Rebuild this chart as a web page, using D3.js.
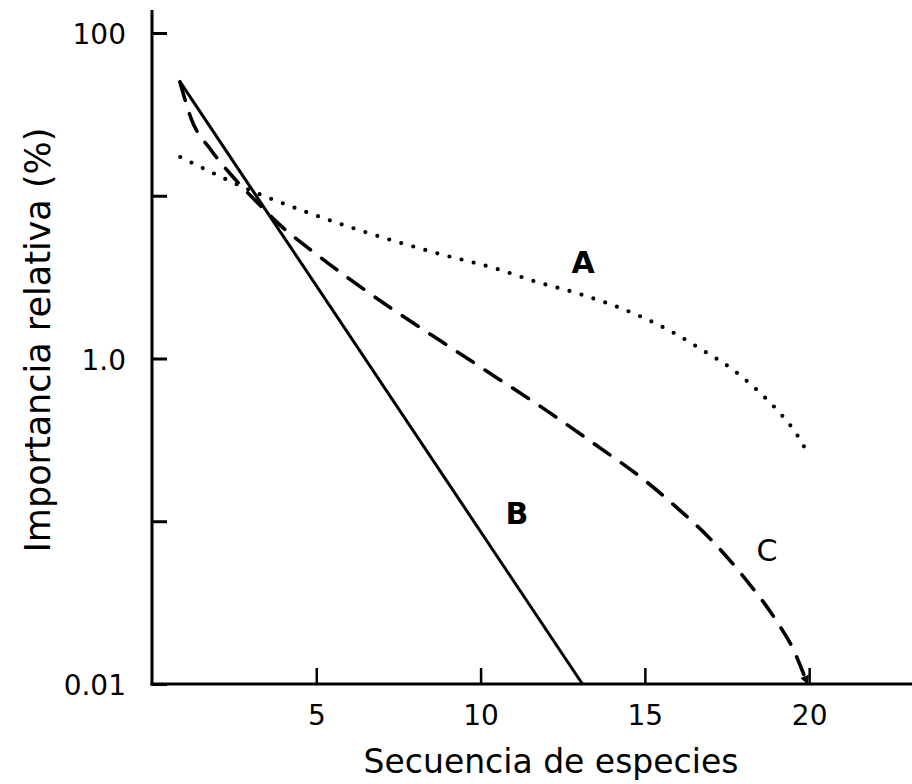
<!DOCTYPE html>
<html>
<head>
<meta charset="utf-8">
<script src="https://cdn.jsdelivr.net/npm/d3@7"></script>
<style>
  html, body { margin: 0; padding: 0; background: #fff; }
  svg { display: block; }
  text { font-family: "DejaVu Sans", sans-serif; fill: #000; }
</style>
</head>
<body>
<script>
// Rank–abundance curves: relative importance (%) of each species by rank
const xTicks = [5, 10, 15, 20];
const yTicks = [0.01, 0.1, 1, 10, 100];
const yTickLabels = ["0.01", "", "1.0", "", "100"];

// A: dotted curve
const rankA = [0.86, 3.39, 4.73, 6.25, 8.56, 10.6, 11.6, 13.13, 14.77, 15.98, 16.68, 17.69, 18.6, 19.12, 19.63, 19.94];
const valueA = [17.3, 10.0, 7.9, 6.2, 4.5, 3.5, 3.0, 2.45, 1.85, 1.4, 1.15, 0.85, 0.59, 0.46, 0.34, 0.265];

// B: straight (geometric series) line
const rankB = [0.83, 13.1];
const valueB = [51, 0.01];

// C: dashed curve
const rankC = [0.85, 1.2, 1.8, 2.4, 3.1, 3.9, 5.0, 6.0, 7.5, 9.0, 10.5, 12.0, 13.5, 15.0, 16.0, 17.0, 18.0, 19.0, 19.5, 19.95];
const valueC = [50, 29.5, 19.05, 13.5, 9.55, 6.6, 4.37, 3.09, 1.9, 1.2, 0.76, 0.48, 0.295, 0.178, 0.12, 0.0776, 0.0457, 0.0245, 0.0166, 0.01];

const xTitle = "Secuencia de especies";
const yTitle = "Importancia relativa (%)";

const W = 912, H = 784;
const svg = d3.select("body").append("svg").attr("width", W).attr("height", H);

const x = d3.scaleLinear().domain([0, 23.13]).range([152, 912]);
const y = d3.scaleLog().domain([0.01, 100]).range([684, 33]);

const zip = (xs, ys) => xs.map((v, i) => ({ x: v, y: ys[i] }));

// Axis lines
svg.append("line")
  .attr("x1", x(0)).attr("x2", x(0))
  .attr("y1", 10).attr("y2", y(0.01) + 1.5)
  .attr("stroke", "#000").attr("stroke-width", 3);
svg.append("line")
  .attr("x1", x(0) - 1.5).attr("x2", W)
  .attr("y1", y(0.01)).attr("y2", y(0.01))
  .attr("stroke", "#000").attr("stroke-width", 3);

// Y axis: ticks pointing inward, labels on the left
const yAxis = d3.axisLeft(y)
  .tickValues(yTicks)
  .tickFormat((d, i) => yTickLabels[i])
  .tickSizeInner(-15)
  .tickSizeOuter(0)
  .tickPadding(26);
const gy = svg.append("g").attr("transform", `translate(${x(0)},0)`).call(yAxis);
gy.select(".domain").remove();
gy.selectAll(".tick line").attr("stroke", "#000").attr("stroke-width", 3);
gy.selectAll(".tick text")
  .attr("font-family", "DejaVu Sans, sans-serif")
  .attr("font-size", 28)
  .attr("dy", "0.38em")
  .attr("fill", "#000");

// X axis: ticks pointing up, labels below
const xAxis = d3.axisBottom(x)
  .tickValues(xTicks)
  .tickFormat(d3.format("d"))
  .tickSizeInner(-16)
  .tickSizeOuter(0)
  .tickPadding(21);
const gx = svg.append("g").attr("transform", `translate(0,${y(0.01)})`).call(xAxis);
gx.select(".domain").remove();
gx.selectAll(".tick line").attr("stroke", "#000").attr("stroke-width", 2.5);
gx.selectAll(".tick text")
  .attr("font-family", "DejaVu Sans, sans-serif")
  .attr("font-size", 28)
  .attr("fill", "#000");

// Axis titles
svg.append("text")
  .attr("x", 551).attr("y", 773)
  .attr("text-anchor", "middle")
  .attr("font-size", 33)
  .text(xTitle);
svg.append("text")
  .attr("transform", "translate(50,340) rotate(-90)")
  .attr("text-anchor", "middle")
  .attr("font-size", 35)
  .text(yTitle);

// Arrowhead for the end of curve C
svg.append("defs").append("marker")
  .attr("id", "arrowC")
  .attr("viewBox", "0 0 10 10")
  .attr("refX", 9).attr("refY", 5)
  .attr("markerWidth", 10).attr("markerHeight", 9)
  .attr("markerUnits", "userSpaceOnUse")
  .attr("orient", "auto")
  .append("path").attr("d", "M0,0 L10,5 L0,10 Z").attr("fill", "#000");

const line = d3.line()
  .x(d => x(d.x))
  .y(d => y(d.y))
  .curve(d3.curveMonotoneX);

// A — dotted
svg.append("path")
  .datum(zip(rankA, valueA))
  .attr("d", line)
  .attr("fill", "none")
  .attr("stroke", "#000")
  .attr("stroke-width", 4.2)
  .attr("stroke-linecap", "round")
  .attr("stroke-dasharray", "0 12.5");

// B — solid
svg.append("path")
  .datum(zip(rankB, valueB))
  .attr("d", d3.line().x(d => x(d.x)).y(d => y(d.y)))
  .attr("fill", "none")
  .attr("stroke", "#000")
  .attr("stroke-width", 3);

// C — dashed
svg.append("path")
  .datum(zip(rankC, valueC))
  .attr("d", line)
  .attr("fill", "none")
  .attr("stroke", "#000")
  .attr("stroke-width", 3.6)
  .attr("stroke-linecap", "round")
  .attr("stroke-dasharray", "19 14")
  .attr("marker-end", "url(#arrowC)");

// Curve labels
const labels = [
  { t: "A", px: 583, py: 262, w: "bold" },
  { t: "B", px: 517, py: 513, w: "bold" },
  { t: "C", px: 767, py: 550, w: "normal" }
];
svg.selectAll("text.curve-label")
  .data(labels)
  .enter().append("text")
  .attr("class", "curve-label")
  .attr("x", d => d.px).attr("y", d => d.py)
  .attr("dy", "0.36em")
  .attr("text-anchor", "middle")
  .attr("font-size", 30)
  .attr("font-weight", d => d.w)
  .text(d => d.t);
</script>
</body>
</html>
